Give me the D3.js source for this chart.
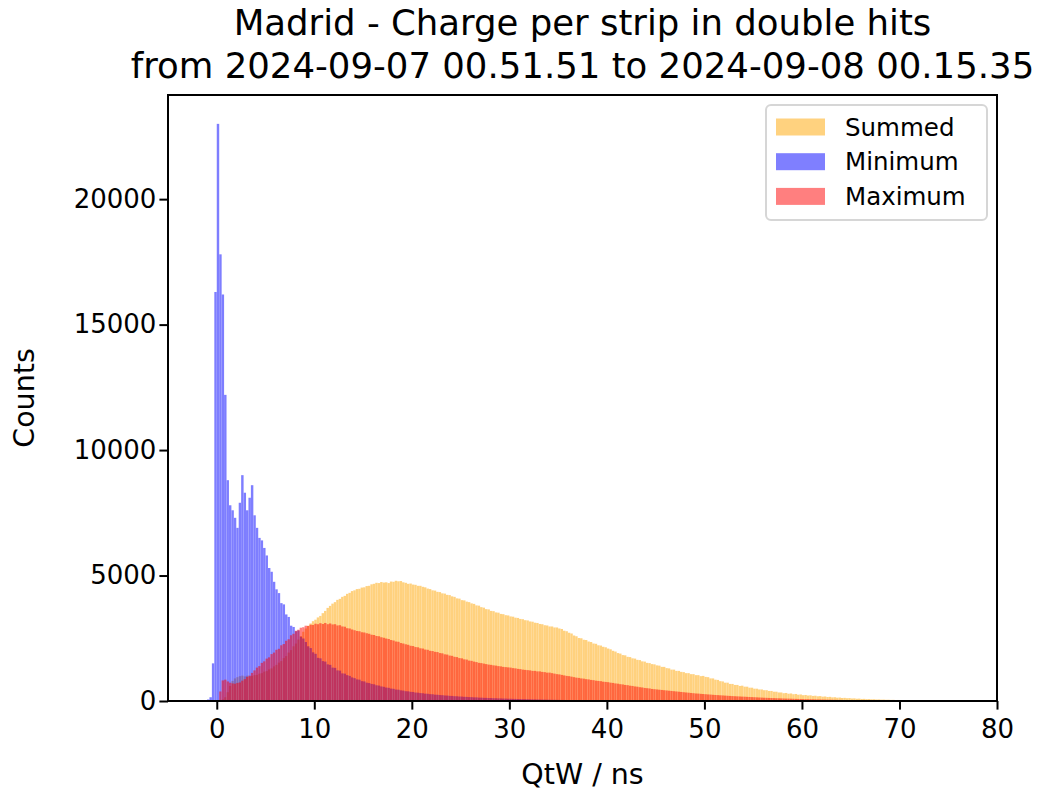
<!DOCTYPE html>
<html>
<head>
<meta charset="utf-8">
<script src="https://cdn.jsdelivr.net/npm/d3@7"></script>
<style>
  body { margin: 0; background: #fff; }
  svg text { font-family: "DejaVu Sans", sans-serif; fill: #000; }
</style>
</head>
<body>
<svg width="1038" height="792"></svg>
<script>
// histogram bins: left edge of first bin and bin width (ns)
let binStart = -1,
    binWidth = 0.25;

let seriesNames = ["Summed", "Minimum", "Maximum"];
let seriesColors = ["orange", "blue", "red"];

// counts per bin, starting at binStart
let summed = [
  0, 0, 0, 0, 0, 0, 60, 150,
  350, 600, 800, 900,
  950, 990, 1010, 980,
  1010, 980, 1000, 1030,
  1040, 1090, 1110, 1170,
  1190, 1260, 1300, 1380,
  1440, 1530, 1590, 1710,
  1790, 1930, 2030, 2180,
  2290, 2450, 2590, 2760,
  2890, 3000, 3090, 3180,
  3240, 3330, 3390, 3500,
  3590, 3710, 3790, 3880,
  3940, 4030, 4070, 4150,
  4190, 4270, 4310, 4380,
  4410, 4460, 4470, 4520,
  4530, 4580, 4590, 4650,
  4670, 4710, 4700, 4740,
  4720, 4730, 4700, 4760,
  4750, 4790, 4770, 4780,
  4730, 4710, 4670, 4680,
  4640, 4630, 4590, 4590,
  4550, 4530, 4480, 4460,
  4410, 4400, 4350, 4340,
  4290, 4280, 4230, 4220,
  4170, 4150, 4090, 4080,
  4020, 4010, 3960, 3940,
  3890, 3870, 3810, 3800,
  3740, 3720, 3660, 3650,
  3590, 3580, 3530, 3520,
  3470, 3460, 3420, 3410,
  3370, 3360, 3320, 3310,
  3270, 3260, 3220, 3210,
  3170, 3160, 3120, 3110,
  3070, 3060, 3020, 3010,
  2970, 2970, 2930, 2930,
  2890, 2870, 2800, 2780,
  2720, 2690, 2610, 2580,
  2510, 2500, 2440, 2430,
  2370, 2350, 2290, 2280,
  2220, 2210, 2160, 2140,
  2090, 2060, 2000, 1970,
  1910, 1890, 1830, 1820,
  1760, 1750, 1700, 1690,
  1640, 1630, 1580, 1570,
  1520, 1510, 1470, 1460,
  1420, 1410, 1360, 1360,
  1310, 1300, 1250, 1250,
  1200, 1200, 1160, 1150,
  1110, 1110, 1070, 1070,
  1030, 1030, 990, 1000,
  960, 950, 900, 900,
  850, 840, 790, 780,
  730, 730, 680, 680,
  640, 640, 600, 610,
  570, 570, 530, 530,
  490, 490, 460, 460,
  430, 430, 400, 400,
  370, 370, 340, 340,
  310, 320, 290, 300,
  270, 280, 250, 260,
  232, 240, 218, 225,
  203, 210, 188, 195,
  173, 180, 158, 165,
  144, 150, 131, 137,
  120, 125, 110, 115,
  100, 105, 90, 95,
  81, 85, 74, 77,
  67, 70, 60, 63,
  54, 57, 49, 51,
  44, 46, 39, 41,
  35, 37, 31, 33,
  27, 29, 24, 25,
  20, 22, 17, 19,
  15, 16, 12, 13,
  10, 11, 8, 9,
  6, 7, 5, 6,
  4
];

let minimum = [
  60, 150, 1500, 16300,
  23000, 17800, 16200, 12200,
  8800, 7800, 7600, 7300,
  6900, 7900, 9000, 8300,
  7600, 8100, 8600, 7400,
  6900, 6500, 6400, 6100,
  5800, 5300, 5150, 4750,
  4450, 4300, 3900, 3850,
  3450, 3350, 3000, 2950,
  2780, 2810, 2560, 2490,
  2350, 2180, 2110, 1940,
  1880, 1720, 1700, 1590,
  1570, 1460, 1440, 1330,
  1320, 1220, 1210, 1100,
  1090, 1030, 1000, 940,
  910, 860, 850, 790,
  780, 730, 715, 680,
  665, 625, 615, 580,
  565, 535, 525, 495,
  485, 455, 450, 425,
  415, 390, 385, 365,
  360, 335, 332, 315,
  308, 292, 288, 272,
  268, 252, 248, 236,
  232, 220, 216, 205,
  202, 190, 188, 178,
  176, 166, 163, 155,
  153, 145, 143, 135,
  133, 126, 125, 118,
  117, 110, 109, 103,
  102, 97, 95, 90,
  89, 85, 83, 79,
  77, 73, 72, 69,
  67, 64, 63, 60,
  59, 56, 55, 52,
  51, 48, 47, 45,
  44, 42, 41, 39,
  38, 36, 36, 34,
  33, 31, 31, 29,
  29, 27, 27, 25,
  25, 24, 23, 22,
  22, 21, 20, 19,
  19, 18, 17, 17,
  16, 15, 15, 14,
  14, 13, 13, 12,
  12, 11, 11, 10
];

let maximum = [
  0, 0, 0, 0, 0, 380, 820, 850,
  780, 730, 700, 690,
  720, 740, 810, 870,
  960, 1010, 1120, 1220,
  1330, 1390, 1520, 1580,
  1690, 1740, 1870, 1930,
  2040, 2080, 2220, 2270,
  2400, 2460, 2620, 2680,
  2800, 2840, 2920, 2940,
  3000, 2990, 3040, 3030,
  3080, 3060, 3100, 3070,
  3110, 3060, 3090, 3050,
  3060, 3010, 3020, 2970,
  2960, 2900, 2890, 2850,
  2820, 2790, 2780, 2740,
  2730, 2700, 2680, 2640,
  2630, 2590, 2580, 2540,
  2520, 2490, 2470, 2430,
  2410, 2370, 2360, 2310,
  2290, 2260, 2240, 2200,
  2190, 2150, 2140, 2100,
  2090, 2050, 2040, 2000,
  1990, 1960, 1950, 1910,
  1900, 1860, 1850, 1810,
  1800, 1760, 1750, 1710,
  1700, 1660, 1650, 1610,
  1600, 1570, 1550, 1520,
  1510, 1490, 1470, 1450,
  1440, 1420, 1410, 1390,
  1380, 1360, 1350, 1340,
  1330, 1310, 1300, 1280,
  1270, 1250, 1240, 1230,
  1220, 1200, 1200, 1180,
  1180, 1160, 1150, 1130,
  1130, 1110, 1090, 1070,
  1060, 1040, 1020, 1000,
  990, 970, 950, 930,
  920, 900, 890, 870,
  860, 840, 830, 810,
  800, 790, 770, 760,
  750, 730, 720, 700,
  690, 670, 660, 640,
  630, 610, 600, 580,
  570, 550, 540, 520,
  510, 500, 480, 470,
  460, 450, 440, 430,
  420, 410, 400, 390,
  380, 370, 360, 350,
  340, 330, 320, 310,
  300, 295, 285, 278,
  270, 262, 255, 247,
  240, 234, 227, 221,
  215, 208, 202, 196,
  190, 185, 180, 175,
  170, 165, 160, 155,
  150, 145, 140, 135,
  130, 126, 122, 118,
  115, 111, 107, 104,
  100, 97, 94, 91,
  88, 85, 82, 80,
  77, 74, 72, 70,
  67, 65, 62, 60,
  58, 56, 54, 52,
  50, 48, 46, 44,
  42, 40, 39, 37,
  36, 34, 33, 31,
  30, 29, 27, 26,
  25, 24, 23, 22,
  20, 19, 18, 17,
  16, 15, 15, 14,
  13, 12, 12, 11,
  10, 10, 9, 9,
  8, 8, 7, 7,
  6, 6, 5, 5,
  4, 4, 3, 3
];

let xTicks = [0, 10, 20, 30, 40, 50, 60, 70, 80],
    yTicks = [0, 5000, 10000, 15000, 20000];

let titleLines = ["Madrid - Charge per strip in double hits",
                  "from 2024-09-07 00.51.51 to 2024-09-08 00.15.35"];

let svg = d3.select("svg"),
    margin = {top: 95, right: 41, bottom: 91, left: 168},
    width = +svg.attr("width") - margin.left - margin.right,
    height = +svg.attr("height") - margin.top - margin.bottom,
    g = svg.append("g").attr("transform", "translate(" + margin.left + "," + margin.top + ")");

let fontSize = 24.5,
    tickSize = 26,
    labelSize = 28.5;

let x = d3.scaleLinear()
    .domain([-5, 80])
    .range([0, width]);

let y = d3.scaleLinear()
    .domain([0, 24150])
    .range([height, 0]);

let allSeries = [summed, minimum, maximum];

allSeries.forEach(function(values, k) {
  let layer = g.append("g")
      .attr("fill", seriesColors[k])
      .attr("opacity", 0.5);
  layer.selectAll("rect")
    .data(values.map(function(v, i) { return {x0: binStart + i * binWidth, v: v}; })
                .filter(function(d) { return d.v > 0; }))
    .enter().append("rect")
      .attr("x", function(d) { return x(d.x0); })
      .attr("width", function(d) { return x(d.x0 + binWidth) - x(d.x0); })
      .attr("y", function(d) { return y(d.v); })
      .attr("height", function(d) { return y(0) - y(d.v); });
});

let xAxis = d3.axisBottom(x).tickValues(xTicks).tickSize(8.6).tickPadding(10);
let yAxis = d3.axisLeft(y).tickValues(yTicks).tickFormat(d3.format("d")).tickSize(8.6).tickPadding(3);

let xGroup = g.append("g")
    .attr("transform", "translate(0," + height + ")")
    .call(xAxis);
let yGroup = g.append("g").call(yAxis);

[xGroup, yGroup].forEach(function(ax) {
  ax.select(".domain").remove();
  ax.selectAll(".tick line").attr("stroke", "#000").attr("stroke-width", 2);
  ax.selectAll(".tick text")
    .attr("font-size", tickSize)
    .attr("font-family", "DejaVu Sans")
    .attr("fill", "#000");
});

// axes frame
g.append("rect")
    .attr("width", width)
    .attr("height", height)
    .attr("fill", "none")
    .attr("stroke", "#000")
    .attr("stroke-width", 2);

// axis labels
svg.append("text")
    .attr("x", margin.left + width / 2)
    .attr("y", 784)
    .attr("text-anchor", "middle")
    .attr("font-size", labelSize)
    .text("QtW / ns");

svg.append("text")
    .attr("transform", "translate(34," + (margin.top + height / 2) + ") rotate(-90)")
    .attr("text-anchor", "middle")
    .attr("font-size", labelSize)
    .text("Counts");

// title
svg.selectAll(".title")
    .data(titleLines)
    .enter().append("text")
    .attr("class", "title")
    .attr("x", margin.left + width / 2)
    .attr("y", function(d, i) { return 35 + i * 43; })
    .attr("text-anchor", "middle")
    .attr("font-size", 35.5)
    .text(function(d) { return d; });

// legend
let legend = g.append("g")
    .attr("transform", "translate(" + (width - 231) + ",10)");

legend.append("rect")
    .attr("width", 221)
    .attr("height", 115)
    .attr("rx", 5)
    .attr("fill", "#fff")
    .attr("fill-opacity", 0.8)
    .attr("stroke", "#d6d6d6")
    .attr("stroke-width", 2);

let rows = legend.selectAll(".row")
    .data(seriesNames)
    .enter().append("g")
    .attr("class", "row")
    .attr("transform", function(d, i) { return "translate(10," + (22 + i * 34.7) + ")"; });

rows.append("rect")
    .attr("y", -8.5)
    .attr("width", 49)
    .attr("height", 17)
    .attr("fill", function(d, i) { return seriesColors[i]; })
    .attr("opacity", 0.5);

rows.append("text")
    .attr("x", 69)
    .attr("dy", "0.35em")
    .attr("font-size", fontSize)
    .text(function(d) { return d; });
</script>
</body>
</html>
